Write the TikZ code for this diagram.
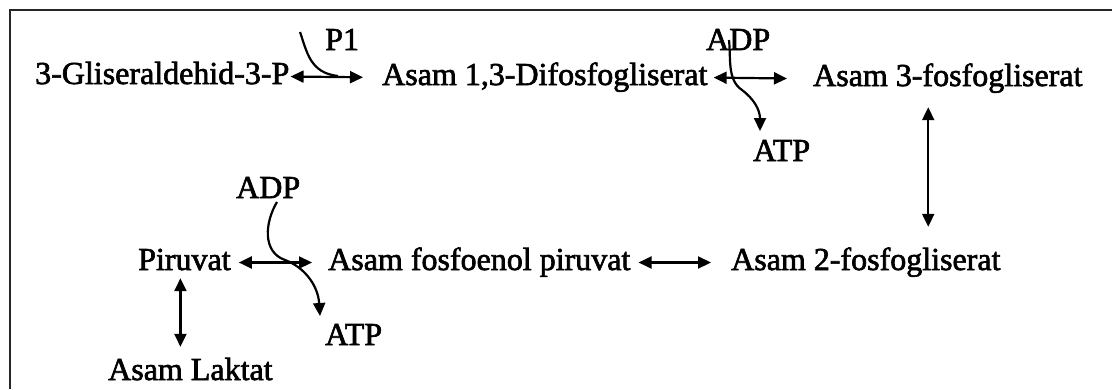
\documentclass[tikz,border=0pt]{standalone}
\usepackage{fontspec}
\setmainfont{Liberation Serif}
\newfontfamily\lblfont{Liberation Serif}[FakeBold=2]
\usetikzlibrary{arrows.meta}
\begin{document}
\begin{tikzpicture}[x=1pt,y=-1pt,
  lbl/.style={anchor=base west,inner sep=0pt,text height=22pt,text depth=7pt,
    font=\fontsize{32}{38}\lblfont},
  conn/.style={line width=2.2pt},
  dbl/.style={conn,{Triangle[length=13pt,width=12pt]}-{Triangle[length=13pt,width=12pt]}},
  one/.style={conn,-{Triangle[length=13pt,width=12pt]}},
  frame/.style={line width=2.6pt,black!85}]
\useasboundingbox (0,0) rectangle (1112,389);
% frame
\draw[frame] (10,389) -- (10,10) -- (1112,10);
% nodes
\node[lbl] (g3p) at (35,84) {3-Gliseraldehid-3-P};
\node[lbl] (dpg) at (382,85) {Asam 1,3-Difosfogliserat};
\node[lbl] (pg3) at (813,86) {Asam 3-fosfogliserat};
\node[lbl] (pg2) at (731,270) {Asam 2-fosfogliserat};
\node[lbl] (pep) at (328,270) {Asam fosfoenol piruvat};
\node[lbl] (pir) at (138,270) {Piruvat};
\node[lbl] (lak) at (108,380) {Asam Laktat};
\node[lbl] (p1) at (325,50) {P1};
\node[lbl] (adp1) at (706,50) {ADP};
\node[lbl] (atp1) at (753,161) {ATP};
\node[lbl] (adp2) at (236,198) {ADP};
\node[lbl] (atp2) at (325,345) {ATP};
% free ends
\coordinate (p1s) at (300,32);
\coordinate (p1e) at (338,76);
\coordinate (adp1s) at (729,40);
\coordinate (adp1e) at (760,131);
\coordinate (adp2s) at (277,202);
\coordinate (adp2e) at (320,316);
% main reversible arrows
\draw[dbl,shorten <=1pt,shorten >=19pt] (g3p.east) -- (dpg.west);
\draw[dbl,shorten <=6pt] (dpg.east) -- ([xshift=-26pt]pg3.west);
\draw[dbl,shorten <=8pt,shorten >=16pt] (pir.east) -- (pep.west);
\draw[dbl,shorten <=8pt,shorten >=20pt] (pep.east) -- (pg2.west);
\draw[dbl,shorten <=14pt,shorten >=21pt] ([xshift=-19.6pt]pg3.south) -- ([xshift=-19.6pt]pg3.south |- pg2.north);
\draw[dbl,shorten <=1pt,shorten >=11pt] ([xshift=-4pt]pir.south) -- ([xshift=-4pt]pir.south |- lak.north);
% side reactions
\draw[conn] (p1s) .. controls (307,52) and (310,73) .. (p1e);
\draw[one] (adp1s) .. controls (731,58) and (727,80) .. (742,90) .. controls (754,99) and (760,110) .. (adp1e);
\draw[one] (adp2s) .. controls (265,222) and (262,252) .. (285,260) .. controls (304,267) and (318,285) .. (adp2e);
\end{tikzpicture}
\end{document}
